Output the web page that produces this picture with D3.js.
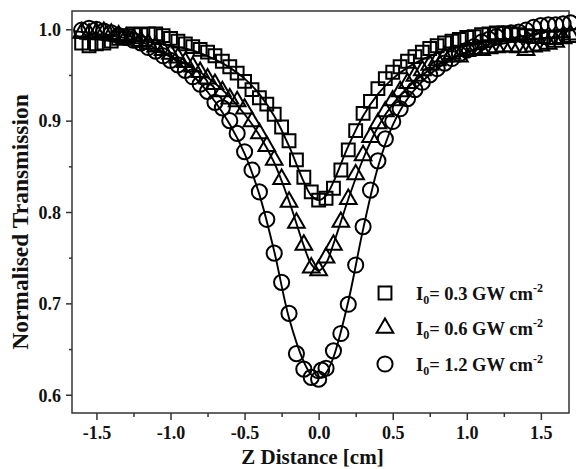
<!DOCTYPE html>
<html>
<head>
<meta charset="utf-8">
<script src="https://cdn.jsdelivr.net/npm/d3@7"></script>
<style>
  html, body { margin: 0; padding: 0; background: #fff; }
  svg { display: block; }
  text { font-family: "Liberation Serif", "Times New Roman", serif; font-weight: bold; fill: #111; }
</style>
</head>
<body>
<svg id="chart" width="576" height="469"></svg>
<script>
// Z-scan positions (cm) shared by the three measured series
const zPositions = [
  -1.60,-1.55,-1.50,-1.45,-1.40,-1.35,-1.30,-1.25,-1.20,-1.15,
  -1.10,-1.05,-1.00,-0.95,-0.90,-0.85,-0.80,-0.75,-0.70,-0.65,
  -0.60,-0.55,-0.50,-0.45,-0.40,-0.35,-0.30,-0.25,-0.20,-0.15,
  -0.10,-0.05, 0.00, 0.05, 0.10, 0.15, 0.20, 0.25, 0.30, 0.35,
   0.40, 0.45, 0.50, 0.55, 0.60, 0.65, 0.70, 0.75, 0.80, 0.85,
   0.90, 0.95, 1.00, 1.05, 1.10, 1.15, 1.20, 1.25, 1.30, 1.35,
   1.40, 1.45, 1.50, 1.55, 1.60, 1.65, 1.70
];

// Normalised transmission, I0 = 0.3 GW cm-2 (squares)
const tSquares = [
  0.985,0.982,0.984,0.985,0.987,0.990,0.993,0.995,0.994,0.995,
  0.995,0.993,0.990,0.987,0.984,0.981,0.978,0.975,0.971,0.965,
  0.959,0.952,0.943,0.934,0.925,0.918,0.907,0.893,0.878,0.857,
  0.838,0.822,0.813,0.815,0.826,0.846,0.868,0.889,0.908,0.921,
  0.935,0.946,0.953,0.959,0.965,0.970,0.975,0.979,0.982,0.985,
  0.987,0.989,0.991,0.992,0.994,0.995,0.996,0.996,0.995,0.994,
  0.993,0.992,0.992,0.991,0.991,0.992,0.993
];

// Normalised transmission, I0 = 0.6 GW cm-2 (triangles)
const tTriangles = [
  0.996,0.995,0.996,0.997,0.995,0.993,0.991,0.990,0.987,0.984,
  0.981,0.977,0.973,0.969,0.964,0.959,0.953,0.946,0.940,0.932,
  0.924,0.921,0.913,0.899,0.886,0.872,0.857,0.836,0.811,0.788,
  0.764,0.739,0.736,0.750,0.764,0.789,0.814,0.841,0.862,0.882,
  0.897,0.910,0.922,0.932,0.941,0.949,0.955,0.961,0.966,0.970,
  0.973,0.970,0.976,0.978,0.977,0.979,0.980,0.981,0.981,0.980,
  0.977,0.981,0.982,0.984,0.986,0.990,0.994
];

// Normalised transmission, I0 = 1.2 GW cm-2 (circles)
const tCircles = [
  0.999,1.001,1.000,0.998,0.996,0.993,0.991,0.988,0.985,0.980,
  0.976,0.971,0.966,0.961,0.955,0.948,0.940,0.932,0.920,0.914,
  0.900,0.886,0.866,0.846,0.822,0.792,0.755,0.723,0.689,0.645,
  0.628,0.619,0.617,0.629,0.648,0.667,0.699,0.742,0.784,0.824,
  0.856,0.880,0.899,0.913,0.924,0.934,0.942,0.950,0.957,0.963,
  0.968,0.973,0.977,0.981,0.986,0.989,0.992,0.995,0.996,0.997,
  0.999,1.002,1.004,1.005,1.005,1.006,1.007
];
// one extra circle recorded near the focus
const circleExtraZ = [0.02];
const circleExtraT = [0.627];

// Theoretical fit curves
const fitZ = [
  -1.65,-1.5,-1.4,-1.3,-1.2,-1.1,-1.0,-0.9,-0.8,-0.7,-0.6,-0.5,-0.4,-0.3,-0.2,-0.1,-0.05,
  0.0,0.05,0.1,0.2,0.3,0.4,0.5,0.6,0.7,0.8,0.9,1.0,1.1,1.2,1.3,1.4,1.5,1.6,1.7
];
const fitSquares = [
  0.991,0.990,0.989,0.988,0.987,0.985,0.982,0.979,0.974,0.967,0.958,0.946,0.929,0.905,0.872,0.833,0.818,
  0.813,0.818,0.833,0.872,0.905,0.929,0.946,0.958,0.967,0.974,0.979,0.982,0.985,0.987,0.988,0.989,0.990,0.991,0.991
];
const fitTriangles = [
  0.991,0.989,0.987,0.984,0.980,0.976,0.970,0.962,0.953,0.941,0.926,0.907,0.884,0.854,0.812,0.763,0.743,
  0.736,0.744,0.765,0.814,0.858,0.893,0.918,0.936,0.950,0.961,0.969,0.975,0.979,0.983,0.986,0.988,0.990,0.991,0.992
];
const fitCircles = [
  0.998,0.995,0.993,0.990,0.986,0.979,0.970,0.957,0.941,0.921,0.896,0.864,0.819,0.757,0.684,0.636,0.622,
  0.618,0.624,0.641,0.702,0.781,0.849,0.895,0.924,0.943,0.957,0.967,0.975,0.981,0.986,0.990,0.993,0.996,0.999,1.001
];

// Axis ticks and labels
const xTicks = [-1.5, -1.0, -0.5, 0.0, 0.5, 1.0, 1.5];
const xTickLabels = ["-1.5", "-1.0", "-0.5", "0.0", "0.5", "1.0", "1.5"];
const xMinorTicks = [-1.25, -0.75, -0.25, 0.25, 0.75, 1.25];
const yTicks = [0.6, 0.7, 0.8, 0.9, 1.0];
const yTickLabels = ["0.6", "0.7", "0.8", "0.9", "1.0"];
const yMinorTicks = [0.65, 0.75, 0.85, 0.95];

// Legend intensities
const legendIntensity = ["0.3", "0.6", "1.2"];

const svg = d3.select("#chart");
const frame = { left: 72, right: 569, top: 11, bottom: 413 };

const x = d3.scaleLinear().domain([-1.665, 1.69]).range([frame.left, frame.right]);
const y = d3.scaleLinear().domain([0.58, 1.02]).range([frame.bottom, frame.top]);

// ---- axes ----
const axisColor = "#333";
const xMajor = svg.append("g").attr("transform", `translate(0,${frame.bottom})`)
  .call(d3.axisBottom(x).tickValues(xTicks).tickFormat((d, i) => xTickLabels[i]).tickSize(7).tickPadding(6));
const xMinor = svg.append("g").attr("transform", `translate(0,${frame.bottom})`)
  .call(d3.axisBottom(x).tickValues(xMinorTicks).tickFormat("").tickSize(4));
const yMajor = svg.append("g").attr("transform", `translate(${frame.left},0)`)
  .call(d3.axisLeft(y).tickValues(yTicks).tickFormat((d, i) => yTickLabels[i]).tickSize(6).tickPadding(5));
const yMinor = svg.append("g").attr("transform", `translate(${frame.left},0)`)
  .call(d3.axisLeft(y).tickValues(yMinorTicks).tickFormat("").tickSize(3));

[xMajor, xMinor, yMajor, yMinor].forEach(g => {
  g.select(".domain").remove();
  g.selectAll(".tick line").attr("stroke", axisColor).attr("stroke-width", 1.5);
  g.selectAll(".tick text").attr("fill", "#111").attr("font-size", 18)
    .attr("font-family", "Liberation Serif, Times New Roman, serif").attr("font-weight", "bold");
});
xMajor.selectAll(".tick text").attr("dy", "0.72em");
yMajor.selectAll(".tick text").attr("dy", "0.35em");

// plot frame
svg.append("rect")
  .attr("x", frame.left).attr("y", frame.top)
  .attr("width", frame.right - frame.left).attr("height", frame.bottom - frame.top)
  .attr("fill", "none").attr("stroke", axisColor).attr("stroke-width", 1.5);

// axis titles
svg.append("text")
  .attr("x", (frame.left + frame.right) / 2 - 8).attr("y", 464)
  .attr("text-anchor", "middle").attr("font-size", 21)
  .text("Z Distance [cm]");
svg.append("text")
  .attr("transform", "translate(28,222) rotate(-90)")
  .attr("text-anchor", "middle").attr("font-size", 23.5)
  .text("Normalised Transmission");

// ---- fit curves ----
const fitLine = vals => d3.line()
  .x((d, i) => x(fitZ[i]))
  .y(d => y(d))
  .curve(d3.curveCatmullRom.alpha(0.5))(vals);

[fitSquares, fitTriangles, fitCircles].forEach(vals => {
  svg.append("path").attr("d", fitLine(vals))
    .attr("fill", "none").attr("stroke", "#000").attr("stroke-width", 1.9);
});

// ---- measured points ----
const markerStyle = { stroke: "#000", width: 2 };
const symSquare = d3.symbol().type(d3.symbolSquare).size(165);
const symTriangle = d3.symbol().type(d3.symbolTriangle).size(120);
const symCircle = d3.symbol().type(d3.symbolCircle).size(180);

function drawSeries(zs, vals, sym) {
  svg.append("g").selectAll("path").data(vals).join("path")
    .attr("d", sym())
    .attr("transform", (d, i) => `translate(${x(zs[i])},${y(d)})`)
    .attr("fill", "none").attr("stroke", markerStyle.stroke).attr("stroke-width", markerStyle.width);
}
drawSeries(zPositions, tSquares, symSquare);
drawSeries(zPositions, tTriangles, symTriangle);
drawSeries(zPositions, tCircles, symCircle);
drawSeries(circleExtraZ, circleExtraT, symCircle);

// ---- legend ----
const legendSyms = [symSquare, symTriangle, symCircle];
const legendRowY = [293, 328, 364];
legendIntensity.forEach((val, i) => {
  const cy = legendRowY[i];
  svg.append("path").attr("d", legendSyms[i]())
    .attr("transform", `translate(385,${cy})`)
    .attr("fill", "none").attr("stroke", "#000").attr("stroke-width", 2);
  const t = svg.append("text").attr("x", 416).attr("y", cy + 7).attr("font-size", 18.5);
  t.append("tspan").text("I");
  t.append("tspan").attr("font-size", 12).attr("dy", 4).text("0");
  t.append("tspan").attr("dy", -4).text(`= ${val} GW cm`);
  t.append("tspan").attr("font-size", 12).attr("dy", -8).text("-2");
});
</script>
</body>
</html>
